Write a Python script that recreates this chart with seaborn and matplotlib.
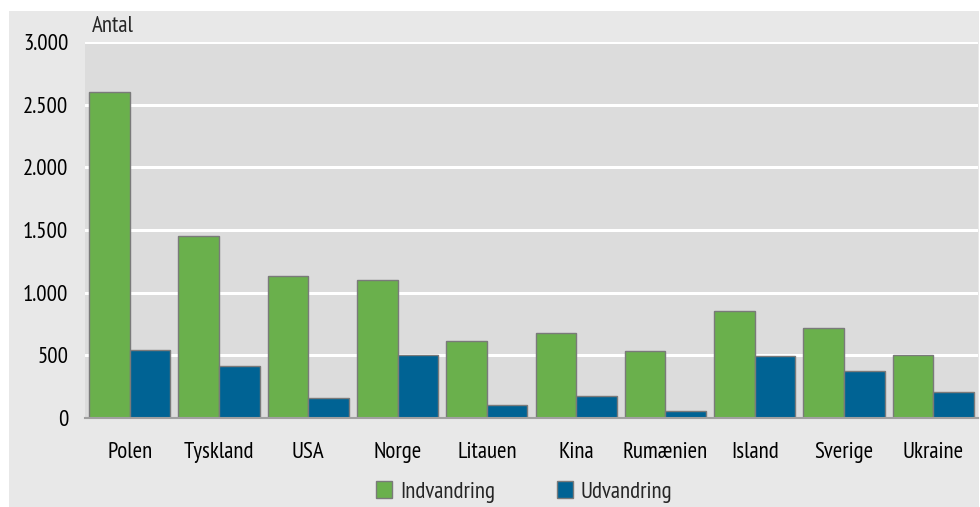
"""Indvandring og udvandring efter land - grouped bar chart."""

import matplotlib
matplotlib.use("Agg")
import matplotlib.pyplot as plt
from matplotlib.patches import Rectangle
from matplotlib.ticker import FuncFormatter
import pandas as pd
import seaborn as sns

COUNTRIES = ["Polen", "Tyskland", "USA", "Norge", "Litauen",
             "Kina", "Rumænien", "Island", "Sverige", "Ukraine"]
INDVANDRING = [2600, 1455, 1130, 1100, 612, 676, 532, 851, 721, 500]
UDVANDRING = [540, 412, 157, 500, 101, 178, 53, 492, 372, 205]
SERIES = ["Indvandring", "Udvandring"]
COLORS = ["#6ab04c", "#006394"]
Y_TICKS = [0, 500, 1000, 1500, 2000, 2500, 3000]

df = pd.DataFrame({
    "land": COUNTRIES * 2,
    "serie": [SERIES[0]] * len(COUNTRIES) + [SERIES[1]] * len(COUNTRIES),
    "antal": INDVANDRING + UDVANDRING,
})

sns.set_theme(style="white")
plt.rcParams["font.family"] = ["PT Sans Narrow", "DejaVu Sans"]
FS = 16.5

fig = plt.figure(figsize=(9.8, 5.07), dpi=100)
fig.patch.set_facecolor("white")
fig.patches.append(Rectangle((9 / 980, 0), 970 / 980, 496 / 507,
                             transform=fig.transFigure, facecolor="#e8e8e8",
                             edgecolor="none", zorder=-10))

ax = fig.add_axes([85 / 980, (507 - 418) / 507, 893 / 980, 376 / 507])
ax.set_facecolor("#dcdcdc")

sns.barplot(data=df, x="land", y="antal", hue="serie", hue_order=SERIES,
            palette=COLORS, width=0.91, gap=0, edgecolor="#7a7a7a",
            linewidth=1, saturation=1, ax=ax, zorder=3, legend=False)

ax.set_xlim(-0.5, len(COUNTRIES) - 0.5)
ax.set_ylim(0, 3000)
ax.set_yticks(Y_TICKS)
ax.yaxis.set_major_formatter(FuncFormatter(lambda v, _: f"{int(v):,}".replace(",", ".")))
ax.grid(axis="y", color="white", linewidth=2.2, zorder=0)
ax.set_axisbelow(True)
for side in ["top", "right", "left"]:
    ax.spines[side].set_visible(False)
ax.spines["bottom"].set_color("#a0a0a0")
ax.spines["bottom"].set_linewidth(1.5)
ax.spines["bottom"].set_zorder(4)
ax.tick_params(axis="both", length=0, labelsize=FS, colors="black")
ax.tick_params(axis="x", pad=17)
ax.tick_params(axis="y", pad=12)
ax.set_xlabel("")
ax.set_ylabel("")

fig.text(92 / 980, 1 - 27 / 507, "Antal", fontsize=FS, va="center", ha="left")

handles = [Rectangle((0, 0), 1, 1, facecolor=c, edgecolor="#7a7a7a", linewidth=1)
           for c in COLORS]
fig.legend(handles, SERIES, loc="center", bbox_to_anchor=(524 / 980, 1 - 492 / 507),
           ncol=2, frameon=False, fontsize=FS, handlelength=0.7, handleheight=0.7,
           handletextpad=0.35, columnspacing=2.7)

fig.savefig("out.png", dpi=100, facecolor="white")
